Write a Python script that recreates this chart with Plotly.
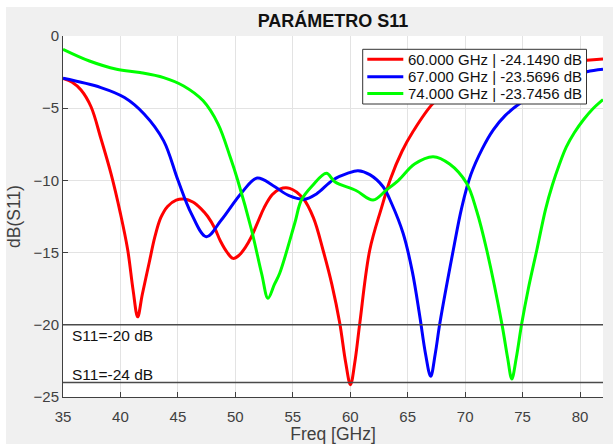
import plotly.graph_objects as go

# ---- data ----
freq_red = [35, 35.8, 36.57, 37.44, 38.3, 39.2, 40.0, 40.63, 41.1, 41.5, 41.9, 42.5, 43.0, 43.5, 44.1,
            44.85, 45.57, 46.3, 47.0, 47.6, 48.2, 48.7, 49.3, 49.8, 50.3, 50.9, 51.4, 52.0, 52.5, 53.2,
            53.86, 54.73, 55.89, 56.8, 57.63, 58.4, 59.09, 59.6, 60.02, 60.4, 60.83, 61.7, 62.72, 63.5,
            64.5, 65.48, 67.22, 68.5, 70, 73, 76, 78.5, 80.6, 82]
s11_red = [-2.93, -3.2, -3.74, -4.9, -7.1, -9.6, -12.3, -14.8, -17.6, -19.45, -17.9, -15.7, -13.9, -12.6, -11.8,
           -11.36, -11.29, -11.5, -11.95, -12.5, -13.3, -14.2, -15.0, -15.4, -15.2, -14.6, -13.9, -12.8, -11.9, -11.0,
           -10.6, -10.55, -11.24, -12.6, -14.82, -17.2, -19.9, -22.6, -24.15, -22.6, -19.9, -14.82, -11.9, -9.9,
           -8.0, -6.6, -4.66, -3.9, -3.3, -2.5, -2.0, -1.8, -1.68, -1.6]

freq_blue = [35, 38.3, 40.35, 42.06, 43.76, 45.0, 46.16, 47.47, 48.78, 50.5, 51.9, 53.3, 54.67, 56.04,
             57.06, 58.5, 59.8, 60.68, 61.7, 62.86, 63.6, 64.6, 65.4, 66.06, 66.55, 67.0, 67.4, 67.8,
             68.97, 69.7, 70.5, 71.5, 72.45, 73.5, 74.78, 77, 79, 80.6, 82]
s11_blue = [-2.93, -3.57, -4.26, -5.4, -7.26, -9.97, -12.28, -13.9, -12.74, -10.9, -9.84, -10.37, -11.06, -11.31,
            -10.94, -9.97, -9.5, -9.33, -9.6, -10.44, -11.6, -13.66, -16.3, -19.44, -22.0, -23.57, -22.0, -19.9,
            -14.82, -11.9, -9.6, -7.8, -6.5, -5.5, -4.66, -3.6, -2.9, -2.47, -2.3]

freq_green = [35, 37.3, 39.67, 41.7, 43.76, 45.5, 47.2, 48.5, 49.56, 50.2, 51.4, 52.3, 52.84, 53.4, 53.86,
              55.17, 55.75, 56.7, 57.93, 58.65, 60.5, 61.99, 63.16, 64.2, 65.6, 67.22, 68.65, 70.13, 71.0,
              71.88, 73.19, 73.7, 74.06, 74.45, 74.93, 75.5, 76.24, 77.0, 77.6, 78.2, 78.8, 79.5, 80.3, 81.1, 82]
s11_green = [-0.92, -1.73, -2.3, -2.53, -2.88, -3.46, -4.49, -6.1, -8.4, -9.97, -13.4, -16.5, -18.16, -17.2, -16.43,
             -12.97, -11.36, -10.37, -9.51, -10.09, -10.7, -11.36, -10.66, -10.0, -8.87, -8.36, -8.87, -10.2, -12.1,
             -14.82, -19.9, -22.3, -23.75, -22.3, -19.9, -17.5, -14.82, -12.0, -10.3, -8.9, -7.7, -6.7, -5.8, -5.05, -4.4]

legend_names = ["60.000 GHz | -24.1490 dB", "67.000 GHz | -23.5696 dB", "74.000 GHz | -23.7456 dB"]
series_colors = ["#ff0000", "#0000ff", "#00ff00"]
ref_levels = [-20, -24]
ref_labels = ["S11=-20 dB", "S11=-24 dB"]
x_ticks = [35, 40, 45, 50, 55, 60, 65, 70, 75, 80]
y_ticks = [0, -5, -10, -15, -20, -25]

FONT = "Liberation Sans, Arial, Helvetica, sans-serif"
W, H = 613, 444
ML, MR, MT, MB = 63, 10, 36, 47
PW, PH = W - ML - MR, H - MT - MB


def px_x(px):
    return (px - ML) / PW


def px_y(py):
    return 1 - (py - MT) / PH


fig = go.Figure()
series = [(freq_red, s11_red), (freq_blue, s11_blue), (freq_green, s11_green)]
for (fx, fy), col, name in zip(series, series_colors, legend_names):
    fig.add_trace(go.Scatter(x=fx, y=fy, mode="lines", name=name, showlegend=False,
                             line=dict(color=col, width=3, shape="spline", smoothing=1.0)))

for lvl in ref_levels:
    fig.add_shape(type="line", xref="paper", x0=0, x1=1, yref="y", y0=lvl, y1=lvl,
                  line=dict(color="#4a4a4a", width=1.5), layer="above")

fig.add_annotation(x=35.6, y=ref_levels[0], text=ref_labels[0], showarrow=False,
                   xanchor="left", yanchor="top", yshift=0, font=dict(size=15.5, color="#111111", family=FONT))
fig.add_annotation(x=35.6, y=ref_levels[1], text=ref_labels[1], showarrow=False,
                   xanchor="left", yanchor="bottom", yshift=-2, font=dict(size=15.5, color="#111111", family=FONT))

# legend box (drawn by hand to match the compact MATLAB legend)
fig.add_shape(type="rect", xref="paper", yref="paper", x0=px_x(362.7), x1=px_x(586.5),
              y0=px_y(104), y1=px_y(49.3), fillcolor="white", line=dict(color="#333333", width=1), layer="above")
row_y = [59.3, 76.7, 93.5]
for ry, col, name in zip(row_y, series_colors, legend_names):
    fig.add_shape(type="line", xref="paper", yref="paper", x0=px_x(367.3), x1=px_x(403.3),
                  y0=px_y(ry), y1=px_y(ry), line=dict(color=col, width=3), layer="above")
    fig.add_annotation(xref="paper", yref="paper", x=px_x(406), y=px_y(ry), text=name, showarrow=False,
                       xanchor="left", yanchor="middle", font=dict(size=15, color="#111111", family=FONT))

# white strips at top/left of the figure frame
fig.add_shape(type="rect", xref="paper", yref="paper", x0=-0.2, x1=px_x(6), y0=-0.3, y1=1.2,
              fillcolor="white", line=dict(width=0), layer="below")
fig.add_shape(type="rect", xref="paper", yref="paper", x0=-0.2, x1=1.1, y0=px_y(7), y1=1.2,
              fillcolor="white", line=dict(width=0), layer="below")

fig.update_layout(
    width=W, height=H, autosize=False,
    margin=dict(l=ML, r=MR, t=MT, b=MB, autoexpand=False),
    paper_bgcolor="#f0f0f0", plot_bgcolor="white",
    font=dict(family=FONT, color="#404040", size=15),
    title=dict(text="<b>PARÁMETRO S11</b>", x=(ML + PW / 2) / W, xanchor="center", y=1 - 21 / H, yanchor="middle",
               font=dict(size=18, color="#111111", family=FONT)),
    showlegend=False,
    xaxis=dict(range=[35, 82], tickvals=x_ticks, ticks="inside", ticklen=5, tickcolor="#404040",
               showgrid=True, gridcolor="#e3e3e3", gridwidth=1, zeroline=False, automargin=False,
               showline=True, linecolor="#404040", linewidth=1, ticklabelstandoff=6,
               title=dict(text="Freq [GHz]", font=dict(size=17.5, color="#404040"), standoff=5),
               tickfont=dict(size=15, color="#404040")),
    yaxis=dict(range=[-25, 0], tickvals=y_ticks, ticks="inside", ticklen=5, tickcolor="#404040",
               showgrid=True, gridcolor="#e3e3e3", gridwidth=1, zeroline=False, automargin=False,
               showline=True, linecolor="#404040", linewidth=1,
               title=dict(text="dB(S11)", font=dict(size=17.5, color="#404040"), standoff=8),
               tickfont=dict(size=15, color="#404040")),
)

fig.write_html("out.html")
